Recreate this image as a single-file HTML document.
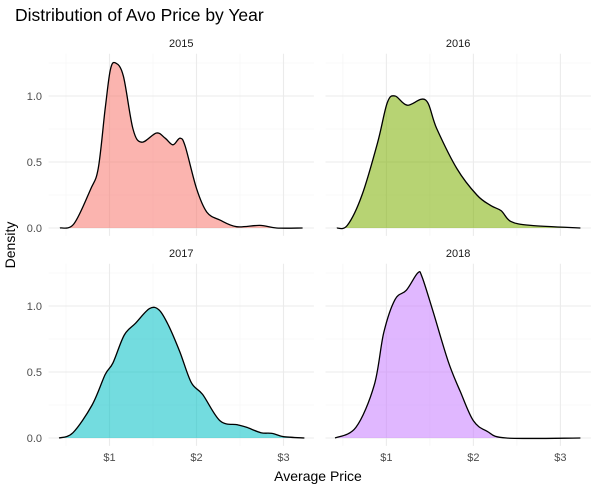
<!DOCTYPE html>
<html><head><meta charset="utf-8"><style>
body{margin:0;background:#fff;font-family:"Liberation Sans",sans-serif;}
svg text{font-family:"Liberation Sans",sans-serif;}
</style></head><body>
<svg id="chart" width="600" height="489" xmlns="http://www.w3.org/2000/svg">
<rect width="600" height="489" fill="#fff"/>
<text x="15" y="21" font-size="17.5" fill="#000">Distribution of Avo Price by Year</text>
<text x="318" y="481" font-size="14" text-anchor="middle" fill="#000">Average Price</text>
<text transform="translate(15,245) rotate(-90)" font-size="14" text-anchor="middle" fill="#000">Density</text>
<g id="panels"></g>
</svg>
<script>
const years = ["2015","2016","2017","2018"];
const colors = ["#F8766D","#7CAE00","#00BFC4","#C77CFF"];
const xTicks = [1,2,3];
const xTickLabels = ["$1","$2","$3"];
const yTicks = [0,0.5,1.0];
const yTickLabels = ["0.0","0.5","1.0"];
const price2015 = [0.43,0.59,0.78,0.87,0.95,1.01,1.07,1.16,1.27,1.37,1.54,1.64,1.73,1.81,1.87,2.0,2.12,2.27,2.46,2.73,2.92,3.22];
const dens2015  = [0,0.03,0.29,0.45,0.9,1.2,1.25,1.15,0.75,0.65,0.72,0.68,0.63,0.68,0.62,0.3,0.12,0.06,0.01,0.02,0,0];
const price2016 = [0.43,0.55,0.72,0.9,1.01,1.1,1.24,1.45,1.58,1.81,2.04,2.2,2.32,2.43,2.66,3.23];
const dens2016  = [0,0.02,0.25,0.65,0.95,1.0,0.93,0.97,0.75,0.45,0.25,0.17,0.13,0.05,0.02,0];
const price2017 = [0.42,0.58,0.8,0.95,1.04,1.17,1.30,1.46,1.57,1.68,1.81,1.94,2.07,2.27,2.47,2.58,2.74,2.87,3.0,3.24];
const dens2017  = [0,0.04,0.25,0.48,0.57,0.78,0.87,0.98,0.97,0.85,0.65,0.42,0.33,0.13,0.10,0.08,0.04,0.035,0.01,0];
const price2018 = [0.41,0.65,0.86,0.97,1.1,1.23,1.36,1.41,1.54,1.71,1.85,2.0,2.16,2.38,3.23];
const dens2018  = [0,0.08,0.4,0.8,1.05,1.12,1.25,1.22,0.95,0.58,0.35,0.13,0.05,0,0];
const prices=[price2015,price2016,price2017,price2018];
const dens=[dens2015,dens2016,dens2017,dens2018];

const NS="http://www.w3.org/2000/svg";
const g=document.getElementById("panels");
const XMIN=0.3,XMAX=3.35,UNIT=87,YUNIT=132;
const panelX=[48.6,325.5], zeroY=[228,438];
function mk(tag,attrs,parent){const e=document.createElementNS(NS,tag);for(const k in attrs)e.setAttribute(k,attrs[k]);parent.appendChild(e);return e;}
function sx(p,col){return panelX[col]+(p-XMIN)*UNIT;}
function sy(d,row){return zeroY[row]-d*YUNIT;}
function smooth(pts){let s="M"+pts[0][0]+","+pts[0][1];for(let i=0;i<pts.length-1;i++){const p0=pts[Math.max(0,i-1)],p1=pts[i],p2=pts[i+1],p3=pts[Math.min(pts.length-1,i+2)];const c1=[p1[0]+(p2[0]-p0[0])/6,p1[1]+(p2[1]-p0[1])/6],c2=[p2[0]-(p3[0]-p1[0])/6,p2[1]-(p3[1]-p1[1])/6];s+=" C"+c1[0].toFixed(1)+","+c1[1].toFixed(1)+" "+c2[0].toFixed(1)+","+c2[1].toFixed(1)+" "+p2[0].toFixed(1)+","+p2[1].toFixed(1);}return s;}
years.forEach((yr,i)=>{
  const col=i%2,row=Math.floor(i/2);
  const x0=sx(XMIN,col),x1=sx(XMAX,col),yTop=sy(1.32,row),yBot=sy(-0.06,row);
  const pg=mk("g",{},g);
  
  
  [0.25,0.75,1.25].forEach(v=>mk("line",{x1:x0,x2:x1,y1:sy(v,row),y2:sy(v,row),stroke:"#f3f3f3","stroke-width":0.6},pg));
  [0.5,1.5,2.5].forEach(v=>mk("line",{x1:sx(v,col),x2:sx(v,col),y1:yTop,y2:yBot,stroke:"#f3f3f3","stroke-width":0.6},pg));
  yTicks.forEach(v=>mk("line",{x1:x0,x2:x1,y1:sy(v,row),y2:sy(v,row),stroke:"#ebebeb","stroke-width":1.1},pg));
  xTicks.forEach(v=>mk("line",{x1:sx(v,col),x2:sx(v,col),y1:yTop,y2:yBot,stroke:"#ebebeb","stroke-width":1.1},pg));
  const strip=mk("text",{x:(x0+x1)/2,y:zeroY[row]-181,"font-size":11,"text-anchor":"middle",fill:"#1a1a1a"},pg);
  strip.textContent=yr;
  
  
  const pts=prices[i].map((p,k)=>[sx(p,col),sy(dens[i][k],row)]);
  const line=smooth(pts);
  const area=mk("path",{d:line+" L"+pts[pts.length-1][0]+","+sy(0,row)+" L"+pts[0][0]+","+sy(0,row)+" Z",fill:colors[i],"fill-opacity":0.55,stroke:"none"},pg);
  
  
  const ln=mk("path",{d:line,fill:"none",stroke:"#000","stroke-width":1.3},pg);
  
  
  if(col===0){yTicks.forEach((v,k)=>{const t=mk("text",{x:42,y:sy(v,row)+4,"font-size":11,"text-anchor":"end",fill:"#4d4d4d"},pg);t.textContent=yTickLabels[k];
    
    });}
  if(row===1){xTicks.forEach((v,k)=>{const t=mk("text",{x:sx(v,col),y:461,"font-size":11,"text-anchor":"middle",fill:"#4d4d4d"},pg);t.textContent=xTickLabels[k];
    
    });}
});
</script>
</body></html>
